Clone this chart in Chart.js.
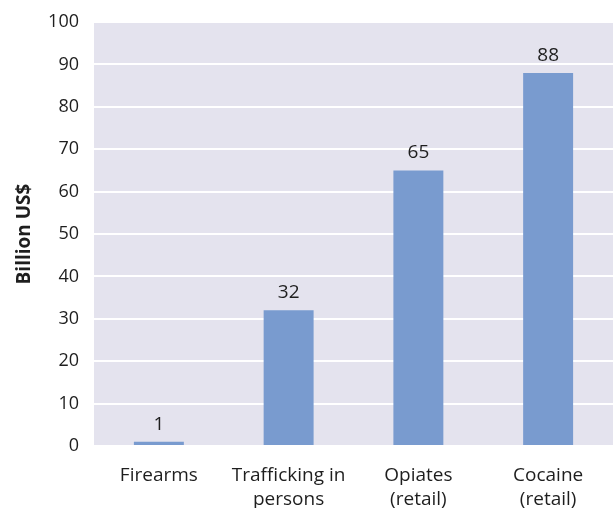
<!DOCTYPE html>
<html>
<head>
<meta charset="utf-8">
<script src="https://cdn.jsdelivr.net/npm/chart.js@4"></script>
<style>
    html, body { margin: 0; padding: 0; background: #fff; }
    #wrap { width: 613px; height: 508px; }
</style>
</head>
<body>
<div id="wrap"><canvas id="marketChart"></canvas></div>
<script>
const categories = [['Firearms'], ['Trafficking in', 'persons'], ['Opiates', '(retail)'], ['Cocaine', '(retail)']];
const values = [1, 32, 65, 88];
const yTicks = [0, 10, 20, 30, 40, 50, 60, 70, 80, 90, 100];

const fontFamily = "'Open Sans', 'Noto Sans', sans-serif";
const textColor = '#1e1e1e';

// plot background
const plotBackground = {
    id: 'plotBackground',
    beforeDraw(chart) {
        const { ctx, chartArea } = chart;
        ctx.save();
        ctx.fillStyle = '#e4e3ee';
        ctx.fillRect(chartArea.left, chartArea.top, chartArea.right - chartArea.left, chartArea.bottom - chartArea.top);
        ctx.restore();
    }
};

// value labels above bars
const barLabels = {
    id: 'barLabels',
    afterDatasetsDraw(chart) {
        const { ctx } = chart;
        const meta = chart.getDatasetMeta(0);
        ctx.save();
        ctx.fillStyle = textColor;
        ctx.font = '19px ' + fontFamily;
        ctx.textAlign = 'center';
        ctx.textBaseline = 'bottom';
        meta.data.forEach((bar, i) => {
            ctx.fillText(String(values[i]), bar.x, bar.y - 8);
        });
        ctx.restore();
    }
};

new Chart(document.getElementById('marketChart').getContext('2d'), {
    type: 'bar',
    data: {
        labels: categories,
        datasets: [{
            label: 'Billion US$',
            data: values,
            backgroundColor: '#799bcf',
            borderWidth: 0,
            barPercentage: 0.385,
            categoryPercentage: 1
        }]
    },
    options: {
        responsive: true,
        maintainAspectRatio: false,
        animation: false,
        layout: { padding: { top: 22, right: 0, left: 13, bottom: 0 } },
        plugins: {
            legend: { display: false },
            tooltip: { enabled: false }
        },
        scales: {
            x: {
                grid: { display: false, drawTicks: false },
                border: { display: false },
                ticks: {
                    color: textColor,
                    font: { family: fontFamily, size: 19, lineHeight: 1.3 },
                    padding: 17,
                    maxRotation: 0,
                    autoSkip: false
                },
                afterFit(scale) { scale.height = 62; }
            },
            y: {
                min: 0,
                max: 100,
                afterBuildTicks(scale) { scale.ticks = yTicks.map(v => ({ value: v })); },
                grid: { color: '#ffffff', lineWidth: 2, drawTicks: false },
                border: { display: false },
                ticks: {
                    color: textColor,
                    font: { family: fontFamily, size: 18 },
                    padding: 15
                },
                title: {
                    display: true,
                    text: 'Billion US$',
                    color: textColor,
                    font: { family: fontFamily, size: 19, weight: 'bold' },
                    padding: { top: 0, bottom: 10 }
                },
                afterFit(scale) {
                    scale.width = 81;
                    scale.paddingTop = 0;
                    scale.paddingBottom = 0;
                }
            }
        }
    },
    plugins: [plotBackground, barLabels]
});
</script>
</body>
</html>
